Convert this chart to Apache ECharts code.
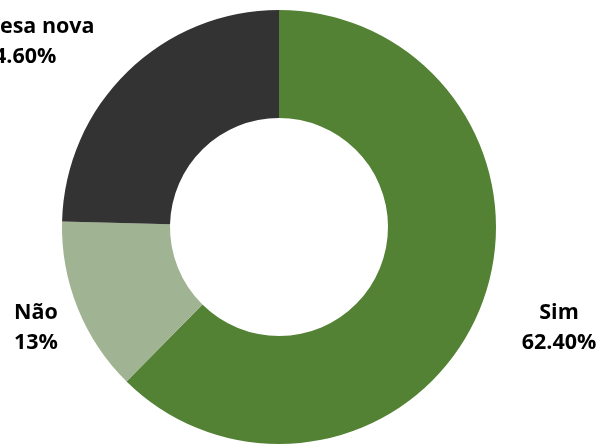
<!DOCTYPE html>
<html><head><meta charset="utf-8">
<script src="https://cdn.jsdelivr.net/npm/echarts@6/dist/echarts.min.js"></script>
<style>html,body{margin:0;padding:0;background:#fff}#c{width:599px;height:444px}</style>
</head><body><div id="c"></div>
<script>
var categories = ['Sim', 'Não', 'Empresa nova'];
var values = [62.4, 13, 24.6];
var valueLabels = ['62.40%', '13%', '24.60%'];
var colors = ['#548235', '#A0B393', '#333333'];
var labelPos = [[559, 328], [36, 328], [19, 42]];

var chart = echarts.init(document.getElementById('c'));
chart.setOption({
  animation: false,
  series: [{
    type: 'pie',
    center: [279, 227],
    radius: [109, 217],
    startAngle: 90,
    clockwise: true,
    data: categories.map(function (c, i) {
      return { name: c, value: values[i], itemStyle: { color: colors[i] } };
    }),
    label: {
      show: true,
      position: 'outside',
      formatter: function (p) { return p.name + '\n' + valueLabels[p.dataIndex]; },
      fontFamily: 'Open Sans',
      fontWeight: 'bold',
      fontSize: 21.5,
      lineHeight: 30,
      color: '#000',
      align: 'center',
      overflow: 'none',
      width: 300
    },
    labelLine: { show: false },
    labelLayout: function (p) {
      return { x: labelPos[p.dataIndex][0], y: labelPos[p.dataIndex][1], align: 'center', verticalAlign: 'middle', hideOverlap: false };
    }
  }]
});
</script></body></html>
